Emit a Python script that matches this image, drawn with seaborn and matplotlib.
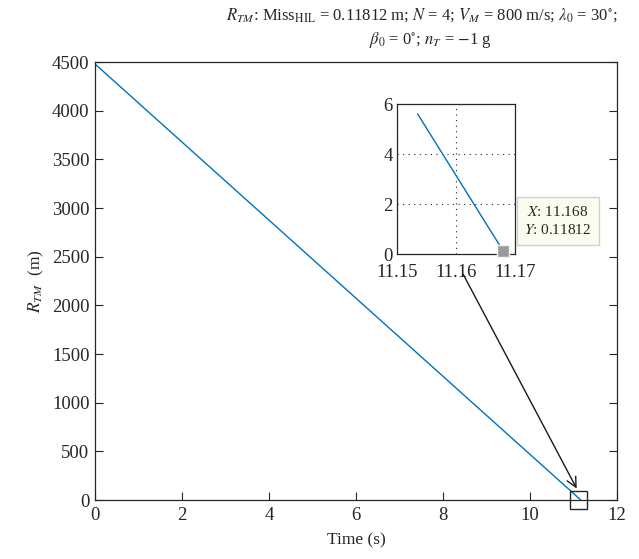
import matplotlib
matplotlib.use("Agg")
import matplotlib.pyplot as plt
import seaborn as sns
import pandas as pd
from matplotlib.patches import Rectangle, FancyArrowPatch

# Data
time_main = [0.0, 11.168]
rtm_main = [4480.0, 0.11812]
time_zoom = [11.1535, 11.168]
rtm_zoom = [5.6, 0.11812]
main_xticks = [0, 2, 4, 6, 8, 10, 12]
main_yticks = [0, 500, 1000, 1500, 2000, 2500, 3000, 3500, 4000, 4500]
zoom_xticks = [11.15, 11.16, 11.17]
zoom_yticks = [0, 2, 4, 6]
tip_x, tip_y = 11.168, 0.11812

sns.set_theme(style="white")
plt.rcParams['font.family'] = ['Liberation Serif', 'DejaVu Serif']
plt.rcParams['mathtext.fontset'] = 'stix'

blue = "#0072BD"
axcol = "#262626"

fig = plt.figure(figsize=(6.39, 5.59), dpi=100)
ax = fig.add_axes([0.1487, 0.1055, 0.8169, 0.7835])
df = pd.DataFrame({"t": time_main, "r": rtm_main})
sns.lineplot(data=df, x="t", y="r", ax=ax, color=blue, linewidth=1.0)
ax.set_xlim(0, 12)
ax.set_ylim(0, 4500)
ax.set_xticks(main_xticks)
ax.set_yticks(main_yticks)
ax.tick_params(direction="in", length=6, labelsize=13.5, colors=axcol, width=0.8,
               top=False, right=True, left=True, bottom=True)
ax.tick_params(axis="x", pad=5)
ax.tick_params(axis="y", pad=4)
for s in ax.spines.values():
    s.set_color(axcol)
    s.set_linewidth(0.9)
ax.set_xlabel("Time (s)", fontsize=12.5, color=axcol, labelpad=6)
ax.set_ylabel(r"$R_{TM}$  (m)", fontsize=12.5, color=axcol, labelpad=4)
fig.text(422 / 639, 1 - 15 / 559,
         r"$R_{TM}$: Miss$_{\rm HIL}$ = 0.11812 m; $N$ = 4; $V_M$ = 800 m/s; $\lambda_0$ = 30$^{\circ}$;",
         fontsize=12, color=axcol, ha="center", va="center")
fig.text(430 / 639, 1 - 40 / 559, r"$\beta_0$ = 0$^{\circ}$; $n_T$ = $-$1 g",
         fontsize=12, color=axcol, ha="center", va="center")
ax.add_patch(Rectangle((10.93, -90), 0.39, 180, fill=False, edgecolor=axcol,
                       linewidth=1.0, clip_on=False, zorder=5))

# Inset
ins = fig.add_axes([0.6213, 0.5456, 0.1847, 0.2683])
dz = pd.DataFrame({"t": time_zoom, "r": rtm_zoom})
sns.lineplot(data=dz, x="t", y="r", ax=ins, color=blue, linewidth=1.0)
ins.set_xlim(11.15, 11.17)
ins.set_ylim(0, 6)
ins.set_xticks(zoom_xticks)
ins.set_yticks(zoom_yticks)
ins.set_xticklabels(["11.15", "11.16", "11.17"])
ins.set_yticklabels(["0", "2", "4", "6"])
ins.grid(True, linestyle=(0, (1, 4)), color=axcol, linewidth=0.8)
ins.tick_params(direction="in", length=0, labelsize=13.5, colors=axcol)
ins.tick_params(axis="x", pad=7)
ins.tick_params(axis="y", pad=3)
ins.set_xlabel("")
ins.set_ylabel("")
for s in ins.spines.values():
    s.set_color(axcol)
    s.set_linewidth(0.9)
ins.plot([tip_x], [tip_y], marker="s", markersize=8, color="#9a9a9a",
         markeredgecolor="#f5f5e8", clip_on=False, zorder=6)
fig.text(558 / 639, 1 - 221 / 559, "$X$: 11.168\n$Y$: 0.11812", fontsize=11, color=axcol,
         ha="center", va="center", linespacing=1.45,
         bbox=dict(boxstyle="square,pad=0.5", facecolor="#fbfbee", edgecolor="#d0d0d0"))

# Arrow
fig.add_artist(FancyArrowPatch(
    (462 / 639, 1 - 272 / 559), (578 / 639, 1 - 491 / 559),
    transform=fig.transFigure, arrowstyle="->,head_length=7,head_width=3.5",
    color="#1a1a1a", linewidth=1.0, mutation_scale=1))

fig.savefig("out.png", dpi=100)
